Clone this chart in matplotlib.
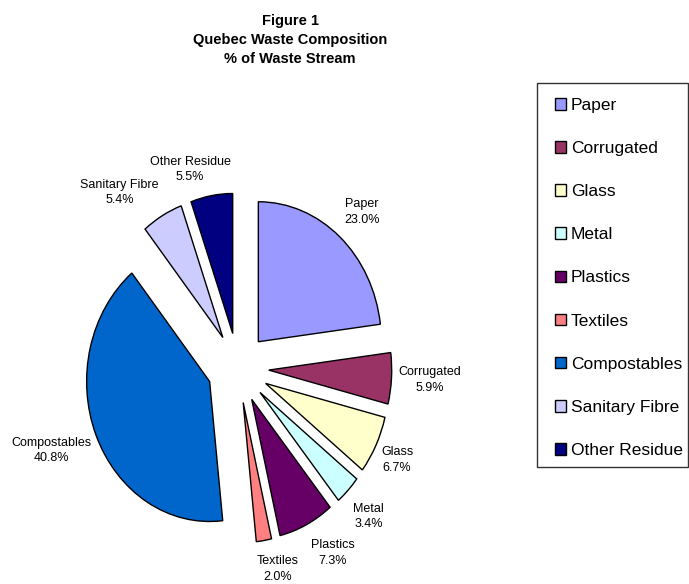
import numpy as np
import matplotlib.pyplot as plt
from matplotlib.patches import Rectangle

plt.rcParams['font.family'] = ['Liberation Sans', 'DejaVu Sans']

# Quebec waste composition, % of waste stream
categories = ['Paper', 'Corrugated', 'Glass', 'Metal', 'Plastics', 'Textiles',
              'Compostables', 'Sanitary Fibre', 'Other Residue']
shares = [23.0, 5.9, 6.7, 3.4, 7.3, 2.0, 40.8, 5.4, 5.5]
colors = ['#9999FF', '#993366', '#FFFFCC', '#CCFFFF', '#660066', '#FF8080',
          '#0066CC', '#CCCCFF', '#000080']

# label placement: distance from pie centre (radii) and angle nudge (deg)
label_dist = [1.50, 1.56, 1.45, 1.50, 1.53, 1.47, 1.63, 1.58, 1.47]
label_turn = [-0.7, 0.2, -0.8, -0.7, 3.8, 2.9, -1.5, 8.0, 5.5]

W, H = 689, 584
fig = plt.figure(figsize=(W / 100, H / 100), dpi=100)

# pie centre and radii in pixels (the original is slightly squashed)
cx, cy, rx, ry = 238, 368, 123, 140
ax = fig.add_axes([0, 0, 1, 1])

wedges, _ = ax.pie(shares, colors=colors, startangle=90, counterclock=False,
                   explode=[0.25] * len(shares),
                   wedgeprops=dict(edgecolor='black', linewidth=1.0))
ax.set_xlim(-cx / rx, (W - cx) / rx)
ax.set_ylim(-(H - cy) / ry, cy / ry)
ax.set_aspect('auto')
ax.axis('off')

for w, c, v, d, t in zip(wedges, categories, shares, label_dist, label_turn):
    a = np.deg2rad((w.theta1 + w.theta2) / 2 + t)
    ax.text(d * np.cos(a), d * np.sin(a), f'{c}\n{v:.1f}%', ha='center', va='center',
            fontsize=9, linespacing=1.4)

fig.text(290 / W, 1 - 40 / H, 'Figure 1\nQuebec Waste Composition\n% of Waste Stream',
         ha='center', va='center', multialignment='center',
         fontsize=10.5, fontweight='bold', linespacing=1.45)

# legend box drawn separately so the rows can sit where the original has them
fig.patches.append(Rectangle((537 / W, 1 - 467 / H), 151 / W, 384 / H,
                             transform=fig.transFigure, facecolor='white',
                             edgecolor='#333333', linewidth=1.0, zorder=0))
leg = fig.legend(wedges, categories, loc='upper left',
                 bbox_to_anchor=(555 / W, 1 - 98 / H),
                 fontsize=12.5, frameon=False, borderaxespad=0, borderpad=0,
                 handlelength=0.65, handleheight=0.65, handletextpad=0.25,
                 labelspacing=1.62)

fig.savefig('out.png', dpi=100)
